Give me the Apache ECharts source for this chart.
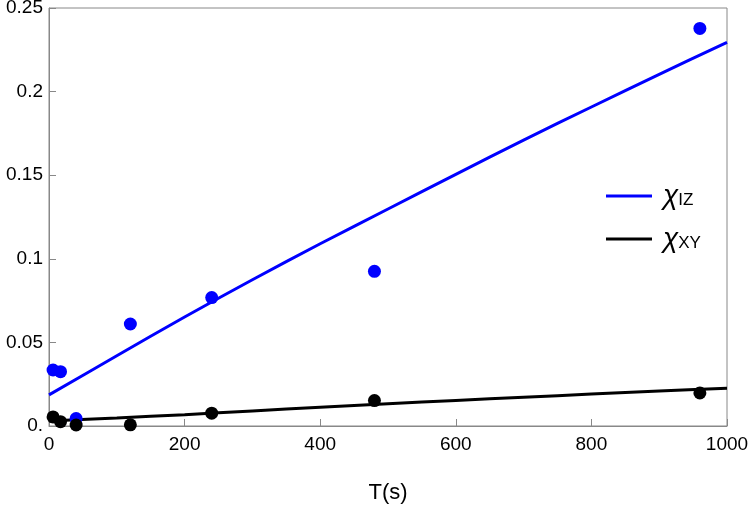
<!DOCTYPE html>
<html>
<head>
<meta charset="utf-8">
<script src="https://cdn.jsdelivr.net/npm/echarts@6/dist/echarts.min.js"></script>
<style>html,body{margin:0;padding:0;background:#fff}#c{width:750px;height:505px}</style>
</head>
<body>
<div id="c"></div>
<script>
// Measured points
const T = [6, 17, 40, 120, 240, 480, 960];
const chiIZ = [0.0335, 0.0325, 0.0045, 0.061, 0.0768, 0.0925, 0.2378];
const chiXY = [0.0054, 0.0026, 0.0006, 0.0007, 0.0077, 0.0152, 0.0198];
// Fit curves
const fitT = [0, 100, 200, 300, 400, 500, 600, 700, 800, 900, 1000];
const fitIZ = [0.0186, 0.042, 0.0652, 0.0875, 0.109, 0.1298, 0.1505, 0.171, 0.1908, 0.2103, 0.2295];
const fitXY = [0.003, 0.0048, 0.0068, 0.0090, 0.0112, 0.0133, 0.0153, 0.0172, 0.0191, 0.0209, 0.0226];
const yTicks = [0, 0.05, 0.1, 0.15, 0.2, 0.25];
const yTickLabels = ['0.', '0.05', '0.1', '0.15', '0.2', '0.25'];
const xTicks = [0, 200, 400, 600, 800, 1000];
const xTitle = 'T(s)';

const BLUE = '#0000ff', BLACK = '#000000', FRAME = '#888888';
const font = 'Liberation Sans, Arial, sans-serif';
const zip = (a, b) => a.map((v, i) => [v, b[i]]);

const chart = echarts.init(document.getElementById('c'), null, {renderer: 'canvas'});
chart.setOption({
  animation: false,
  grid: {left: 49, right: 23, top: 8, bottom: 79, containLabel: false, outerBoundsMode: 'none',
         show: true, borderColor: FRAME, borderWidth: 1},
  xAxis: {
    type: 'value', min: 0, max: 1000, interval: 200,
    name: xTitle, nameLocation: 'middle', nameGap: 56,
    nameTextStyle: {fontSize: 22, color: '#000', fontFamily: font},
    axisLine: {show: true, lineStyle: {color: FRAME, width: 1}},
    axisTick: {show: true, inside: true, length: 7, lineStyle: {color: FRAME}},
    splitLine: {show: false},
    axisLabel: {
      fontSize: 19, color: '#000', fontFamily: font, margin: 9,
      formatter: v => { const i = xTicks.findIndex(t => Math.abs(t - v) < 1e-6); return i >= 0 ? String(xTicks[i]) : ''; }
    }
  },
  yAxis: {
    type: 'value', min: 0, max: 0.25, interval: 0.05,
    axisLine: {show: true, lineStyle: {color: FRAME, width: 1}},
    axisTick: {show: true, inside: true, length: 7, lineStyle: {color: FRAME}},
    splitLine: {show: false},
    axisLabel: {
      fontSize: 19, color: '#000', fontFamily: font, margin: 6,
      formatter: v => { const i = yTicks.findIndex(t => Math.abs(t - v) < 1e-9); return i >= 0 ? yTickLabels[i] : ''; }
    }
  },
  legend: {
    data: ['IZ', 'XY'], orient: 'vertical', left: 601, top: 177, itemGap: 15,
    itemWidth: 46, itemHeight: 3, icon: 'rect',
    formatter: n => '{chi|χ}{sub|' + n + '}',
    textStyle: {
      rich: {
        chi: {fontSize: 28, fontStyle: 'italic', fontFamily: font, color: '#000', padding: [0, 0, 0, 6]},
        sub: {fontSize: 17, fontFamily: font, color: '#000', padding: [9, 0, 0, 0]}
      }
    }
  },
  series: [
    {name: 'IZ', type: 'line', data: zip(fitT, fitIZ), smooth: 0.3, symbol: 'none', lineStyle: {color: BLUE, width: 3}, itemStyle: {color: BLUE}, z: 2},
    {name: 'XY', type: 'line', data: zip(fitT, fitXY), smooth: 0.3, symbol: 'none', lineStyle: {color: BLACK, width: 3}, itemStyle: {color: BLACK}, z: 2},
    {name: 'ptIZ', type: 'scatter', data: zip(T, chiIZ), symbolSize: 13, itemStyle: {color: BLUE, opacity: 1}, z: 3},
    {name: 'ptXY', type: 'scatter', data: zip(T, chiXY), symbolSize: 13, itemStyle: {color: BLACK, opacity: 1}, z: 3}
  ]
});
</script>
</body>
</html>
